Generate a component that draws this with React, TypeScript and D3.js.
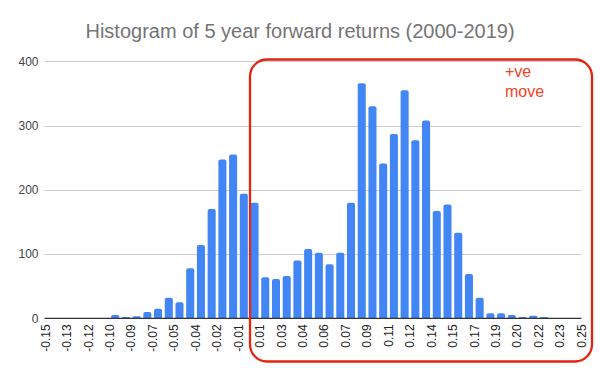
import React from "react";
import * as d3 from "d3";

const binCounts: number[] = [
  0, 0, 0, 0, 0, 0, 5, 2, 3, 10,
  15, 32, 25, 78, 114, 170, 247, 255, 194, 180,
  64, 61, 66, 90, 108, 102, 84, 102, 180, 366,
  330, 241, 287, 355, 277, 308, 167, 177, 133, 69,
  32, 8, 8, 5, 2, 4, 2, 0, 0, 0,
];
const xTickLabels: string[] = [
  "-0.15", "-0.13", "-0.12", "-0.10", "-0.09", "-0.07", "-0.05", "-0.04", "-0.02", "-0.01",
  "0.01", "0.03", "0.04", "0.06", "0.07", "0.09", "0.11", "0.12", "0.14", "0.15",
  "0.17", "0.19", "0.20", "0.22", "0.23", "0.25",
];
const yTicks: number[] = [0, 100, 200, 300, 400];
const title = "Histogram of 5 year forward returns (2000-2019)";
const noteLines: string[] = ["+ve", "move"];

const W = 600;
const H = 371;
const left = 45.5;
const right = 581.5;
const top = 61.3;
const bottom = 318.3;
const font = "'Liberation Sans', Arial, sans-serif";

function barPath(x0: number, x1: number, y0: number, yb: number) {
  const h = yb - y0;
  const r = Math.min(2, h / 2, (x1 - x0) / 2);
  return `M${x0},${yb} L${x0},${y0 + r} Q${x0},${y0} ${x0 + r},${y0} L${x1 - r},${y0} Q${x1},${y0} ${x1},${y0 + r} L${x1},${yb} Z`;
}

export default function App() {
  const idx = binCounts.map((_, i) => i);
  const x = d3.scaleBand<number>().domain(idx).range([left, right]).paddingInner(0.25).paddingOuter(0.125);
  const step = (right - left) / binCounts.length;
  const y = d3.scaleLinear().domain([0, 400]).range([bottom, top]);

  return (
    <div style={{ position: "absolute", left: 0, top: 0 }}>
      <svg width={W} height={H} style={{ display: "block", background: "#fff" }}>
        <rect x={0} y={0} width={W} height={H} fill="#fff" />
        <text x={300} y={38} textAnchor="middle" fontFamily={font} fontSize={20} fill="#757575">
          {title}
        </text>
        {yTicks.map((t) => (
          <g key={t}>
            {t !== 0 && (
              <line x1={left - 1} x2={right} y1={Math.round(y(t)) + 0.5} y2={Math.round(y(t)) + 0.5} stroke="#cccccc" strokeWidth={1} />
            )}
            <text x={38.5} y={y(t)} dy="0.35em" textAnchor="end" fontFamily={font} fontSize={12} fill="#444">
              {t}
            </text>
          </g>
        ))}
        {binCounts.map((c, i) =>
          c > 0 ? (
            <path
              key={i}
              d={barPath(x(i) as number, (x(i) as number) + x.bandwidth(), y(c), y(0))}
              fill="#4285f4"
            />
          ) : null
        )}
        <line x1={left - 1} x2={right} y1={bottom} y2={bottom} stroke="#333" strokeWidth={1.3} />
        {xTickLabels.map((lab, k) => {
          const xp = left + k * 2 * step;
          return (
            <text
              key={lab + k}
              transform={`translate(${xp},${bottom + 6}) rotate(-90)`}
              dy="0.35em"
              textAnchor="end"
              fontFamily={font}
              fontSize={12}
              fill="#222"
            >
              {lab}
            </text>
          );
        })}
        <rect x={250} y={59.5} width={342} height={302} rx={17} ry={17} fill="none" stroke="#e3240f" strokeWidth={2.3} />
        {noteLines.map((l, i) => (
          <text key={l} x={505} y={77 + i * 20} fontFamily={font} fontSize={16} fill="#f0441f">
            {l}
          </text>
        ))}
      </svg>
    </div>
  );
}
